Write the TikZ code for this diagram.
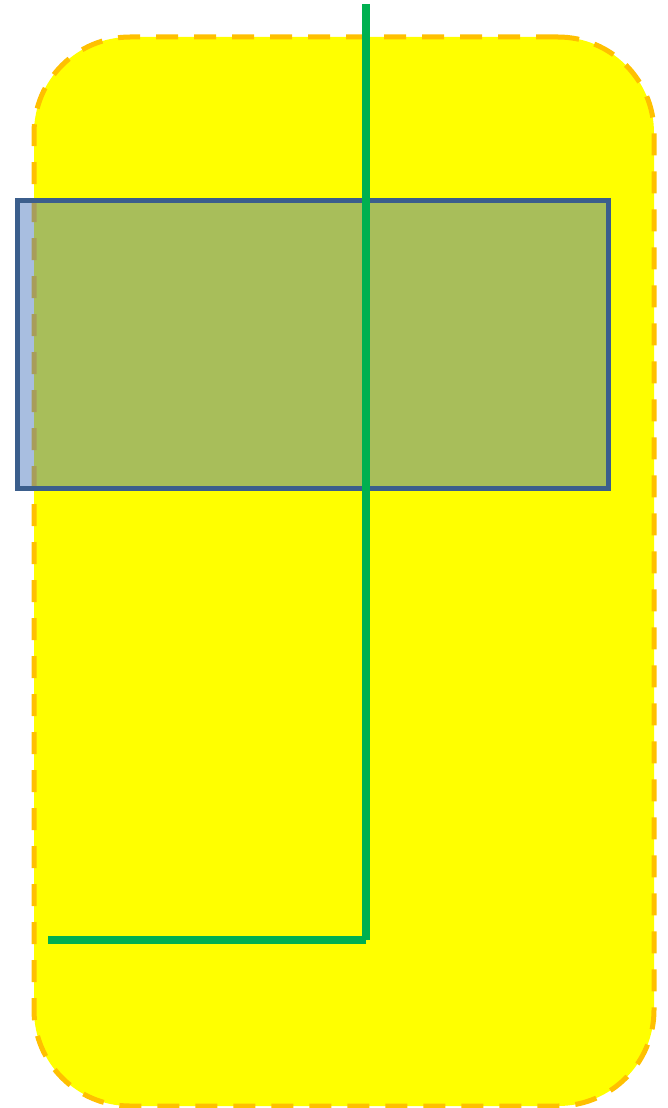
\documentclass[tikz,border=0pt]{standalone}
\usepackage{xcolor}
\usepackage{tikz}
\usetikzlibrary{positioning,calc}
\definecolor{cardyellow}{HTML}{FFFF00}
\definecolor{cardorange}{HTML}{FFC000}
\definecolor{panelblue}{HTML}{4A78BE}
\definecolor{paneledge}{HTML}{3B5E8C}
\definecolor{wiregreen}{HTML}{00B050}

\begin{document}
\begin{tikzpicture}[
  x=1pt, y=-1pt,
  card/.style={rounded corners=96pt, draw=cardorange, fill=cardyellow, line width=5pt, dash pattern=on 22pt off 16pt, minimum width=620pt, minimum height=1069pt, inner sep=0pt},
  panel/.style={draw=paneledge, line width=5pt, fill=panelblue, fill opacity=0.48, minimum width=591pt, minimum height=288pt, inner sep=0pt},
  wire/.style={draw=wiregreen, line width=8pt}
]
\useasboundingbox (0,0) rectangle (667,1108);

\node[card] (c) at (344,571.5) {};
\node[panel] (p) at (312.5,344) {};

\coordinate (top) at (366,4);
\coordinate (bend) at (366,940);
\coordinate (end) at (48,940);
\draw[wire] (top) -- (bend);
\draw[wire] (bend) -- (end);
\end{tikzpicture}
\end{document}
